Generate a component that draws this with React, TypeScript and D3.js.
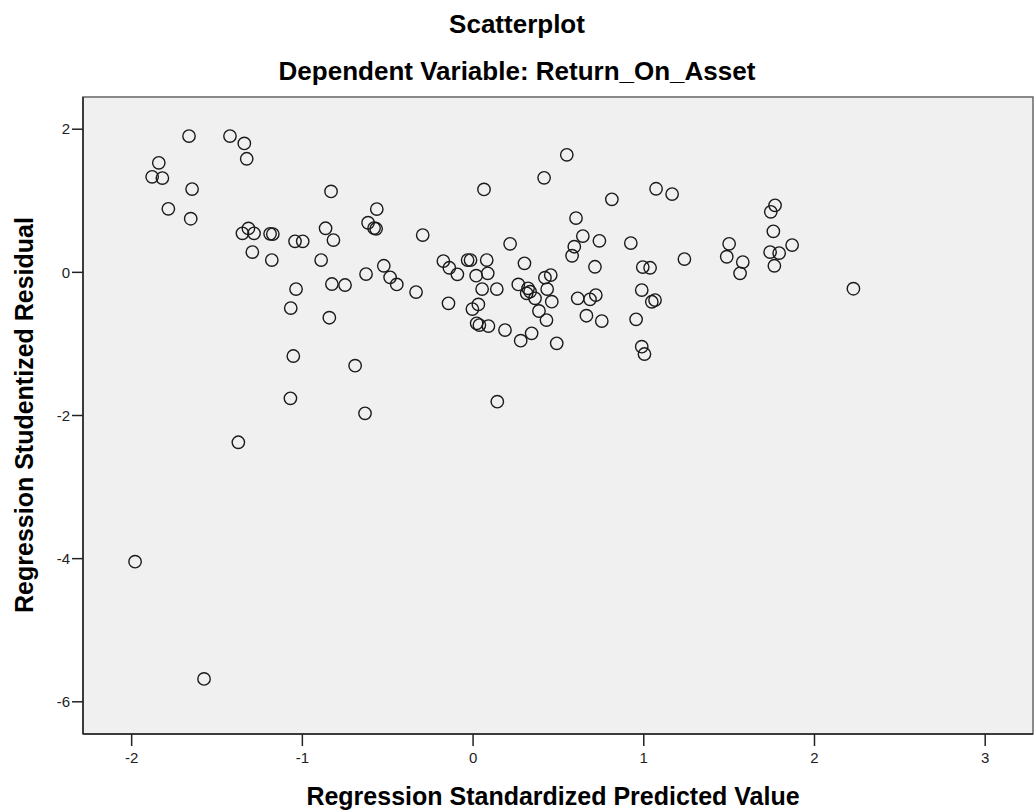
import React from "react";
import * as d3 from "d3";

const predicted: number[] = [
  -1.664, -1.841, -1.88, -1.82, -1.646, -1.785, -1.654, -1.424, -1.34, -1.326,
  -1.316, -1.351, -1.283, -1.293, -1.189, -1.173, -1.179, -1.043, -0.998, -1.037,
  -1.068, -0.832, -0.864, -0.818, -0.89, -0.564, -0.615, -0.568, -0.58, -0.295,
  -0.174, -0.139, -0.092, -0.032, -0.015, 0.08, 0.018, 0.086, 0.053, 0.139,
  -0.523, -0.486, -0.447, -0.627, -0.827, -0.75, -0.842, -0.334, -0.144, 0.064,
  0.217, 0.301, 0.416, 0.549, 0.603, 0.643, 0.593, 0.58, 0.265, 0.322,
  0.334, 0.314, 0.363, 0.386, 0.43, 0.434, 0.421, 0.455, 0.461, 0.613,
  -0.004, 0.031, 0.021, 0.037, 0.09, 0.187, 0.279, 0.343, 0.49, 0.142,
  0.813, 1.072, 1.166, 0.74, 0.714, 0.924, 0.994, 1.037, 0.988, 1.047,
  1.066, 0.955, 0.685, 0.719, 0.664, 0.754, 1.238, 1.5, 1.486, 1.58,
  1.564, 1.769, 1.744, 1.759, 1.74, 1.793, 1.869, 1.765, 2.228, 0.988,
  1.004, -1.053, -0.691, -1.07, -0.633, -1.375, -1.98, -1.576,
];

const residual: number[] = [
  1.904, 1.531, 1.335, 1.317, 1.163, 0.888, 0.749, 1.904, 1.802, 1.587,
  0.614, 0.545, 0.545, 0.284, 0.539, 0.535, 0.172, 0.433, 0.433, -0.233,
  -0.499, 1.131, 0.616, 0.451, 0.172, 0.884, 0.693, 0.609, 0.618, 0.521,
  0.157, 0.064, -0.028, 0.172, 0.172, 0.172, -0.047, -0.014, -0.233, -0.233,
  0.092, -0.07, -0.168, -0.024, -0.163, -0.177, -0.634, -0.275, -0.433, 1.159,
  0.399, 0.126, 1.321, 1.642, 0.758, 0.507, 0.358, 0.232, -0.168, -0.223,
  -0.27, -0.293, -0.363, -0.54, -0.667, -0.233, -0.075, -0.038, -0.41, -0.363,
  -0.513, -0.448, -0.712, -0.736, -0.75, -0.806, -0.955, -0.852, -0.992, -1.807,
  1.02, 1.168, 1.094, 0.441, 0.078, 0.409, 0.074, 0.064, -0.247, -0.411,
  -0.387, -0.656, -0.377, -0.317, -0.606, -0.681, 0.186, 0.399, 0.218, 0.144,
  -0.014, 0.936, 0.846, 0.573, 0.284, 0.27, 0.381, 0.092, -0.229, -1.039,
  -1.141, -1.169, -1.304, -1.76, -1.969, -2.374, -4.042, -5.68,
];

const xTicks: number[] = [-2, -1, 0, 1, 2, 3];
const yTicks: number[] = [2, 0, -2, -4, -6];

const title = "Scatterplot";
const subtitle = "Dependent Variable: Return_On_Asset";
const xTitle = "Regression Standardized Predicted Value";
const yTitle = "Regression Studentized Residual";

const W = 1035;
const H = 812;
const L = 83;
const R = 1033;
const T = 97;
const B = 734;
const FONT = "Arial, 'Liberation Sans', sans-serif";

export default function App() {
  const x = d3.scaleLinear().domain([-2.285, 3.28]).range([L, R]);
  const y = d3.scaleLinear().domain([-6.45, 2.45]).range([B, T]);
  const pts = predicted.map((p, i) => ({ px: p, py: residual[i] }));

  return (
    <svg
      width={W}
      height={H}
      style={{ position: "absolute", left: 0, top: 0, background: "#fff" }}
      fontFamily={FONT}
    >
      <rect x={0} y={0} width={W} height={H} fill="#fff" />
      <text x={517} y={33} textAnchor="middle" fontSize={26} fontWeight="bold" fill="#000">
        {title}
      </text>
      <text x={517} y={80} textAnchor="middle" fontSize={26} fontWeight="bold" fill="#000">
        {subtitle}
      </text>

      <rect x={L} y={T} width={R - L} height={B - T} fill="#f0f0f0" stroke="#666" strokeWidth={1.5} />
      <line x1={L} y1={T} x2={L} y2={B} stroke="#222" strokeWidth={1.5} />
      <line x1={L} y1={B} x2={R} y2={B} stroke="#222" strokeWidth={1.5} />

      {yTicks.map((t) => (
        <g key={"y" + t}>
          <line x1={L - 11} x2={L} y1={y(t)} y2={y(t)} stroke="#222" strokeWidth={1.5} />
          <text x={L - 13} y={y(t)} dy="0.35em" textAnchor="end" fontSize={15} fill="#222">
            {t}
          </text>
        </g>
      ))}
      {xTicks.map((t) => (
        <g key={"x" + t}>
          <line x1={x(t)} x2={x(t)} y1={B} y2={B + 12} stroke="#222" strokeWidth={1.5} />
          <text x={x(t)} y={763} textAnchor="middle" fontSize={15} fill="#222">
            {t}
          </text>
        </g>
      ))}

      {pts.map((d, i) => (
        <circle
          key={i}
          cx={x(d.px)}
          cy={y(d.py)}
          r={6.2}
          fill="none"
          stroke="#1a1a1a"
          strokeWidth={1.4}
        />
      ))}

      <text x={553} y={805} textAnchor="middle" fontSize={25} fontWeight="bold" fill="#000">
        {xTitle}
      </text>
      <text
        transform={`translate(33, 415) rotate(-90)`}
        textAnchor="middle"
        fontSize={25}
        fontWeight="bold"
        fill="#000"
      >
        {yTitle}
      </text>
    </svg>
  );
}
